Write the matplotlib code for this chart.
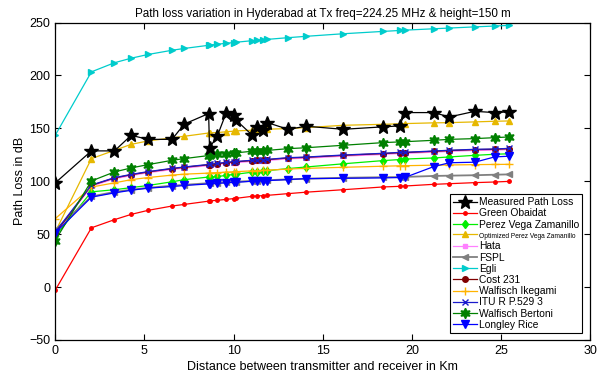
import numpy as np
import matplotlib

matplotlib.use("Agg")
import matplotlib.pyplot as plt

plt.rcParams["font.family"] = ["Liberation Sans", "DejaVu Sans"]

# distances (km) of the measurement / prediction points
dist = [0, 2.03, 3.32, 4.26, 5.2, 6.55, 7.23, 8.6, 8.65, 9.09, 9.59, 10.0, 10.15,
        11.01, 11.3, 11.62, 11.9, 13.05, 14.08, 16.14, 18.36, 19.31, 19.6,
        21.21, 22.1, 23.52, 24.63, 25.46]

measured = [98.4, 128.7, 128.7, 143.4, 139.6, 139.6, 154.0, 164.0, 131.5, 142.9,
            164.9, 162.3, 157.6, 144.1, 151.4, 148.2, 155.4, 149.1, 152.0, 149.1,
            151.4, 152.3, 164.9, 164.9, 160.8, 166.1, 164.9, 165.6]
green_obaidat = [-3, 56, 63.7, 68.7, 72.5, 76.6, 78.1, 81.2, 81.4, 82, 82.9, 83.6,
                 83.9, 85.7, 86.1, 86.4, 86.7, 88.3, 89.7, 92, 94.6, 95.2, 95.5,
                 97.1, 97.7, 98.7, 99.3, 99.9]
perez_vega = [48, 90, 92, 94, 96, 99.5, 101.5, 104, 104, 104.5, 105.5, 106.5, 106.7,
              108.5, 109, 109.5, 110, 112, 113.5, 116.5, 119.5, 120.5, 121, 122,
              123, 124.5, 125.5, 126]
opt_perez_vega = [52, 121.4, 129.2, 134.9, 138.1, 141, 142.5, 145.6, 145.7, 146,
                  146.8, 147.3, 147.6, 148.2, 148.8, 149, 149.2, 149.8, 150.7,
                  152.9, 153.8, 154.3, 154.5, 155.2, 155.4, 156.1, 156.7, 157]
hata = [50, 95.3, 102.3, 105.4, 108, 111.1, 112.4, 114.8, 114.9, 115.8, 116.8,
        117.4, 117.6, 118.7, 119, 119.3, 119.6, 121.2, 121.8, 123.7, 125.3, 126.2,
        126.3, 127.5, 128.2, 129.1, 129.4, 130]
fspl = [54, 85.6, 89.9, 92.0, 93.8, 95.8, 96.6, 98.2, 98.2, 98.6, 99.1, 99.5, 99.6,
        100.3, 100.5, 100.8, 101.0, 101.8, 102.4, 103.3, 103.8, 104.0, 104.1, 105.0,
        105.3, 105.7, 106.2, 106.5]
egli = [143.4, 203.4, 212, 216.3, 219.8, 223.8, 225.5, 228.5, 228.6, 229.5, 230.4,
        231.1, 231.4, 232.8, 233.3, 233.7, 234.1, 235.7, 237.0, 239.4, 241.6, 242.5,
        242.8, 244.1, 244.8, 245.9, 246.7, 247.3]
cost231 = [51, 96.1, 103.1, 106.2, 108.8, 111.9, 113.2, 115.6, 115.7, 116.6, 117.6,
           118.2, 118.4, 119.5, 119.8, 120.1, 120.4, 122, 122.6, 124.5, 126.1, 127,
           127.1, 128.3, 129, 129.9, 130.2, 130.8]
walfisch_ikegami = [64.6, 94.5, 98.5, 101.5, 103.5, 105.8, 106.7, 107.7, 107.8,
                    108.2, 108.6, 109, 109.1, 109.8, 110, 110.3, 110.5, 111.5, 112.2,
                    113.2, 114.2, 114.6, 114.7, 115.2, 115.4, 115.7, 115.9, 116]
itu_529 = [52, 96.4, 103.4, 106.5, 109.1, 112.2, 113.5, 115.9, 116, 116.9, 117.9,
           118.5, 118.7, 119.8, 120.1, 120.4, 120.7, 122.3, 122.9, 124.8, 126.4,
           127.3, 127.4, 128.6, 129.3, 130.2, 130.5, 131.1]
walfisch_bertoni = [44, 100.3, 108.8, 112.6, 115.7, 119.8, 121.4, 124.3, 124.5,
                    125.4, 126.1, 126.7, 126.9, 128.3, 128.6, 128.9, 129.2, 130.8,
                    131.7, 134, 136.5, 137.2, 137.4, 138.7, 139.6, 140.3, 141.2, 141.9]
longley_rice = [51, 85, 89, 91.5, 93.5, 95, 96, 97.5, 97.6, 98, 98.5, 99, 99, 100,
                100.2, 100.5, 100.6, 101.6, 102.5, 102.8, 103.2, 103.5, 103.6, 113.8,
                117.5, 118, 123, 123.7]

x_ticks = [0, 5, 10, 15, 20, 25, 30]
y_ticks = [-50, 0, 50, 100, 150, 200, 250]


def main() -> None:
    fig = plt.figure(figsize=(6.0, 3.82), dpi=100)
    ax = fig.add_axes([0.092, 0.11, 0.892, 0.831])

    lw = 0.9
    ax.plot(dist, measured, "-*", color="black", lw=lw, ms=10, label="Measured Path Loss", zorder=20)
    ax.plot(dist, green_obaidat, "-o", color="red", lw=lw, ms=2.5, label="Green Obaidat")
    ax.plot(dist, perez_vega, "-d", color="#00ee00", lw=lw, ms=4.5, label="Perez Vega Zamanillo")
    ax.plot(dist, opt_perez_vega, "-^", color="#e6b800", lw=lw, ms=5, label="Optimized Perez Vega Zamanillo")
    ax.plot(dist, hata, "-s", color="#ff80ff", lw=lw, ms=3.5, label="Hata")
    ax.plot(dist, fspl, "-<", color="#808080", lw=1.3, ms=5, label="FSPL")
    ax.plot(dist, egli, "->", color="#00cccc", lw=lw, ms=4.5, label="Egli")
    ax.plot(dist, cost231, "-o", color="#800000", lw=lw, ms=4, label="Cost 231")
    ax.plot(dist, walfisch_ikegami, "-+", color="#ffb300", lw=lw, ms=6, label="Walfisch Ikegami")
    ax.plot(dist, itu_529, "-x", color="#1a1acc", lw=lw, ms=4, label="ITU R P.529 3")
    ax.plot(dist, walfisch_bertoni, "-", marker=(6, 1, 0), color="#008000", lw=lw, ms=7.5,
            label="Walfisch Bertoni")
    ax.plot(dist, longley_rice, "-v", color="#0000ff", lw=lw, ms=6, label="Longley Rice")

    ax.set_xlim(0, 30)
    ax.set_ylim(-50, 250)
    ax.set_xticks(x_ticks)
    ax.set_yticks(y_ticks)
    ax.tick_params(direction="in", top=True, right=True, labelsize=9, length=4, width=0.8)
    for sp in ax.spines.values():
        sp.set_linewidth(0.9)

    ax.set_title("Path loss variation in Hyderabad at Tx freq=224.25 MHz & height=150 m",
                 fontsize=8.4, pad=4)
    ax.set_xlabel("Distance between transmitter and receiver in Km", fontsize=9, labelpad=3)
    ax.set_ylabel("Path Loss in dB", fontsize=9, labelpad=2)

    leg = ax.legend(loc="lower right", bbox_to_anchor=(0.985, 0.022), borderaxespad=0,
                    fontsize=7.4, labelspacing=0.12, handlelength=2.3, handletextpad=0.2,
                    borderpad=0.3, fancybox=False, framealpha=1, edgecolor="black")
    leg.get_frame().set_linewidth(0.8)
    leg.get_texts()[3].set_fontsize(4.8)

    fig.savefig("out.png", dpi=100)
    plt.close(fig)


if __name__ == "__main__":
    main()
